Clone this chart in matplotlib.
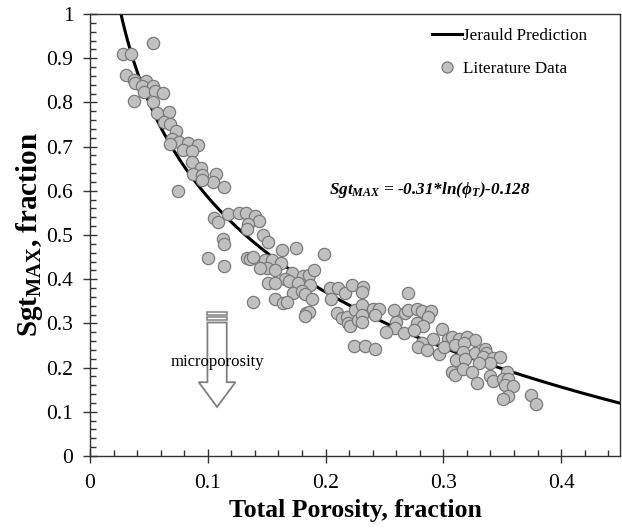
import numpy as np
import matplotlib
matplotlib.use("Agg")
import matplotlib.pyplot as plt
from matplotlib.patches import Polygon, Rectangle
from matplotlib.lines import Line2D

plt.rcParams['font.family'] = ['Liberation Serif', 'DejaVu Serif']
plt.rcParams['mathtext.fontset'] = 'custom'
plt.rcParams['mathtext.rm'] = 'Liberation Serif:bold:italic'
plt.rcParams['mathtext.it'] = 'Liberation Serif:bold:italic'
plt.rcParams['mathtext.bf'] = 'Liberation Serif:bold'

# ---- data ----
porosity = [
    0.0532, 0.0278, 0.0348, 0.0306, 0.0376, 0.0476, 0.0382, 0.0439, 0.0532, 0.0461,
    0.0552, 0.0623, 0.0371, 0.0538, 0.0566, 0.0671, 0.0628, 0.0679, 0.0730, 0.0694,
    0.0758, 0.0835, 0.0915, 0.0679, 0.0792, 0.0864, 0.0864, 0.0943, 0.0877, 0.0949,
    0.1070, 0.1042, 0.0949, 0.1138, 0.0750,
    0.1053, 0.1090, 0.1169, 0.1268, 0.1325, 0.1401, 0.1438, 0.1344, 0.1331, 0.1132,
    0.1141, 0.1005, 0.1138, 0.1331, 0.1359, 0.1382, 0.1382,
    0.1472, 0.1514, 0.1628, 0.1749, 0.1990, 0.1486, 0.1543, 0.1620, 0.1501, 0.1571,
    0.1444, 0.1713, 0.1811, 0.1862, 0.1902, 0.1656, 0.1693, 0.1769, 0.1868, 0.1514,
    0.1571, 0.1727, 0.1798, 0.1826, 0.1571, 0.1642, 0.1670, 0.1883, 0.2038, 0.2109,
    0.2044, 0.2166, 0.2222, 0.1834, 0.1862, 0.1826, 0.2095, 0.2138, 0.2180, 0.2194,
    0.2208, 0.2251, 0.2279, 0.2245,
    0.2321, 0.2307, 0.2703, 0.2307, 0.2406, 0.2457, 0.2420, 0.2307, 0.2307, 0.2584,
    0.2675, 0.2703, 0.2775, 0.2817, 0.2893, 0.2873, 0.2775, 0.2825, 0.2599, 0.2590,
    0.2514, 0.2669, 0.2752, 0.2915, 0.2817, 0.2788, 0.2864, 0.2966, 0.2335, 0.2420,
    0.2987, 0.3043, 0.3072, 0.3136, 0.3199, 0.3270, 0.3006, 0.3100, 0.3176, 0.3170,
    0.3270, 0.3355, 0.3363, 0.3335, 0.3425, 0.3482, 0.3397, 0.3306, 0.3108, 0.3185,
    0.3072, 0.3100, 0.3165, 0.3242, 0.3539, 0.3397, 0.3420, 0.3505, 0.3552, 0.3524,
    0.3595, 0.3289, 0.3552, 0.3505, 0.3743, 0.3788,
]
sgt_max = [
    0.935, 0.910, 0.910, 0.861, 0.851, 0.849, 0.843, 0.836, 0.837, 0.824,
    0.826, 0.822, 0.804, 0.802, 0.777, 0.778, 0.756, 0.751, 0.736, 0.717,
    0.711, 0.709, 0.704, 0.706, 0.692, 0.691, 0.666, 0.651, 0.638, 0.636,
    0.638, 0.621, 0.624, 0.608, 0.600,
    0.538, 0.530, 0.548, 0.550, 0.550, 0.543, 0.532, 0.526, 0.513, 0.490,
    0.479, 0.449, 0.430, 0.447, 0.445, 0.451, 0.349,
    0.500, 0.485, 0.466, 0.471, 0.457, 0.443, 0.443, 0.436, 0.425, 0.421,
    0.425, 0.413, 0.407, 0.410, 0.421, 0.400, 0.397, 0.392, 0.387, 0.391,
    0.392, 0.368, 0.374, 0.367, 0.355, 0.347, 0.349, 0.355, 0.379, 0.379,
    0.355, 0.369, 0.387, 0.323, 0.326, 0.317, 0.323, 0.312, 0.314, 0.300,
    0.293, 0.330, 0.308, 0.249,
    0.383, 0.372, 0.368, 0.342, 0.332, 0.332, 0.319, 0.319, 0.304, 0.330,
    0.324, 0.330, 0.332, 0.329, 0.329, 0.315, 0.300, 0.294, 0.304, 0.289,
    0.281, 0.279, 0.285, 0.264, 0.255, 0.247, 0.240, 0.231, 0.249, 0.241,
    0.287, 0.264, 0.269, 0.264, 0.269, 0.262, 0.247, 0.251, 0.255, 0.236,
    0.234, 0.241, 0.232, 0.223, 0.221, 0.223, 0.210, 0.210, 0.217, 0.219,
    0.191, 0.183, 0.196, 0.191, 0.191, 0.181, 0.170, 0.174, 0.174, 0.161,
    0.158, 0.166, 0.136, 0.128, 0.138, 0.118,
]
coef_a = -0.31
coef_b = -0.128
x_ticks = [0, 0.1, 0.2, 0.3, 0.4]
y_ticks = [0, 0.1, 0.2, 0.3, 0.4, 0.5, 0.6, 0.7, 0.8, 0.9, 1.0]
x_tick_labels = ['0', '0.1', '0.2', '0.3', '0.4']
y_tick_labels = ['0', '0.1', '0.2', '0.3', '0.4', '0.5', '0.6', '0.7', '0.8', '0.9', '1']

fig = plt.figure(figsize=(6.22, 5.28), dpi=100)
ax = fig.add_axes([90/622, 1-456/528, 530/622, 442/528])

phi_curve = np.linspace(0.02, 0.45, 400)
ax.plot(phi_curve, coef_a*np.log(phi_curve) + coef_b, color='black', lw=2.2,
        zorder=2, label='Jerauld Prediction')
ax.scatter(porosity, sgt_max, s=78, facecolor='#c0c0c0', edgecolor='#7a7a7a',
           linewidth=0.9, zorder=3, label='Literature Data')

ax.set_xlim(0, 0.45)
ax.set_ylim(0, 1)
ax.set_xticks(x_ticks)
ax.set_xticklabels(x_tick_labels)
ax.set_yticks(y_ticks)
ax.set_yticklabels(y_tick_labels)
ax.set_xticks(np.arange(0, 0.451, 0.02), minor=True)
ax.set_yticks(np.arange(0, 1.001, 0.02), minor=True)
ax.tick_params(which='major', direction='inout', length=10, width=1.0,
               labelsize=15.5, color='#333333')
ax.tick_params(axis='x', which='major', pad=8)
ax.tick_params(axis='y', which='major', pad=7)
ax.tick_params(which='minor', direction='in', length=4.5, width=1.0, color='#333333')
for sp in ax.spines.values():
    sp.set_color('#333333')
    sp.set_linewidth(1.0)

ax.set_xlabel('Total Porosity, fraction', fontsize=18.5, fontweight='bold', labelpad=4)
ax.set_ylabel(r'Sgt$_{\mathbf{MAX}}$, fraction', fontsize=21, fontweight='bold', labelpad=1)

ax.text(0.2886, 0.602, r'$Sgt_{MAX}$ = -0.31*ln($\phi_T$)-0.128',
        fontsize=12.3, fontweight='bold', fontstyle='italic',
        ha='center', va='center', zorder=5)

# microporosity arrow
ac = 0.1079
sw = 0.0082
hw = 0.0156
gray = '#808080'
shaft = Polygon([(ac-sw, 0.302), (ac-sw, 0.167), (ac-hw, 0.167), (ac, 0.111),
                 (ac+hw, 0.167), (ac+sw, 0.167), (ac+sw, 0.302)],
                closed=True, facecolor='white', edgecolor=gray, lw=1.3, zorder=4)
ax.add_patch(shaft)
ax.add_patch(Rectangle((ac-sw, 0.307), 2*sw, 0.007, facecolor='white', edgecolor=gray, lw=1.1, zorder=4))
ax.add_patch(Rectangle((ac-sw, 0.319), 2*sw, 0.007, facecolor='white', edgecolor=gray, lw=1.1, zorder=4))
ax.text(ac, 0.213, 'microporosity', fontsize=12, ha='center', va='center', zorder=6)

handles = [Line2D([], [], color='black', lw=2.2),
           Line2D([], [], marker='o', ls='none', markersize=8, markerfacecolor='#c0c0c0',
                  markeredgecolor='#7a7a7a', markeredgewidth=0.9)]
ax.legend(handles, ['Jerauld Prediction', 'Literature Data'], loc='upper left',
          bbox_to_anchor=(0.63, 0.988), frameon=False, fontsize=12.3,
          handlelength=1.75, handletextpad=0.05, labelspacing=1.0, borderpad=0)

fig.savefig('out.png', dpi=100)
